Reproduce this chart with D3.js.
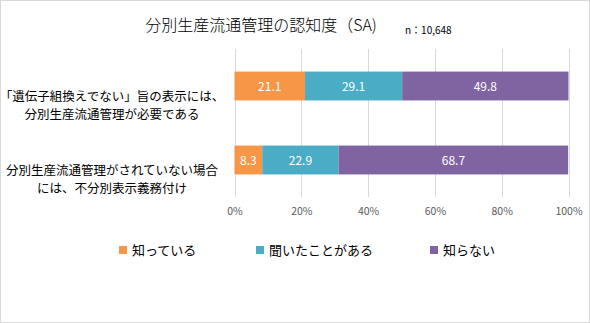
<!DOCTYPE html>
<html><head><meta charset="utf-8">
<script src="https://cdn.jsdelivr.net/npm/d3@7/dist/d3.min.js"></script>
<style>
body{margin:0;background:#fff;}
text{font-family:"Noto Sans CJK JP","Noto Sans",sans-serif;}
</style></head>
<body><svg id="c" width="590" height="323"></svg>
<script>
const categories = [
  ["「遺伝子組換えでない」旨の表示には、", "分別生産流通管理が必要である"],
  ["分別生産流通管理がされていない場合", "には、不分別表示義務付け"]
];
const seriesNames = ["知っている", "聞いたことがある", "知らない"];
const known = [21.1, 8.3];
const heard = [29.1, 22.9];
const unknown = [49.8, 68.7];
const ticks = [0, 20, 40, 60, 80, 100];
const colors = ["#F79646", "#4BACC6", "#8064A2"];

const svg = d3.select("#c");
svg.append("rect").attr("x",0.5).attr("y",0.5).attr("width",589).attr("height",322)
  .attr("fill","#fff").attr("stroke","#d9d9d9");

svg.append("text").attr("x",261).attr("y",31).attr("text-anchor","middle")
  .attr("font-size",16).attr("font-weight",300).attr("fill","#000").text("分別生産流通管理の認知度（SA)");
svg.append("text").attr("x",405).attr("y",34).attr("font-size",10).attr("fill","#000")
  .text("n：10,648");

const x = d3.scaleLinear().domain([0,100]).range([234.5,568.5]);
const y = d3.scaleBand().domain(d3.range(categories.length)).range([49,197]).paddingInner(0.61).paddingOuter(0.305);

// grid
svg.append("g").selectAll("line").data(ticks).join("line")
  .attr("x1",d=>Math.round(x(d))+0.5).attr("x2",d=>Math.round(x(d))+0.5)
  .attr("y1",49).attr("y2",197).attr("stroke","#d9d9d9").attr("stroke-width",1);

// axis labels
const ax = d3.axisBottom(x).tickValues(ticks).tickFormat(d=>d+"%").tickSize(0).tickPadding(0);
const axg = svg.append("g").attr("transform","translate(0,208)").call(ax);
axg.select(".domain").remove();
axg.selectAll("text").attr("font-size",10.5).attr("fill","#595959")
  .attr("font-family","'Noto Sans CJK JP','Noto Sans',sans-serif");

const data = categories.map((c,i)=>({i, vals:[known[i],heard[i],unknown[i]]}));
const stack = d3.stack().keys([0,1,2]).value((d,k)=>d.vals[k]);
const layers = stack(data);
layers.forEach((layer,k)=>{
  const g = svg.append("g");
  g.selectAll("rect").data(layer).join("rect")
    .attr("x",d=>x(d[0])).attr("width",d=>x(d[1])-x(d[0]))
    .attr("y",(d,i)=>y(i)).attr("height",y.bandwidth()).attr("fill",colors[k]);
  g.selectAll("text").data(layer).join("text")
    .attr("x",d=>(x(d[0])+x(d[1]))/2).attr("y",(d,i)=>y(i)+y.bandwidth()/2+4.5)
    .attr("text-anchor","middle").attr("font-size",12).attr("fill","#fff")
    .text(d=>d.data.vals[k].toFixed(1));
});

// category labels
categories.forEach((lines,i)=>{
  const cy = y(i)+y.bandwidth()/2;
  lines.forEach((t,j)=>{
    svg.append("text").attr("x",112).attr("y",cy+15+j*18)
      .attr("text-anchor","middle").attr("font-size",12.5).attr("fill","#000").text(t);
  });
});

// legend
const legX = [119, 256, 430];
seriesNames.forEach((n,k)=>{
  svg.append("rect").attr("x",legX[k]).attr("y",246).attr("width",8).attr("height",8).attr("fill",colors[k]);
  svg.append("text").attr("x",legX[k]+13).attr("y",254.5).attr("font-size",13).attr("fill","#000").text(n);
});
</script></body></html>
